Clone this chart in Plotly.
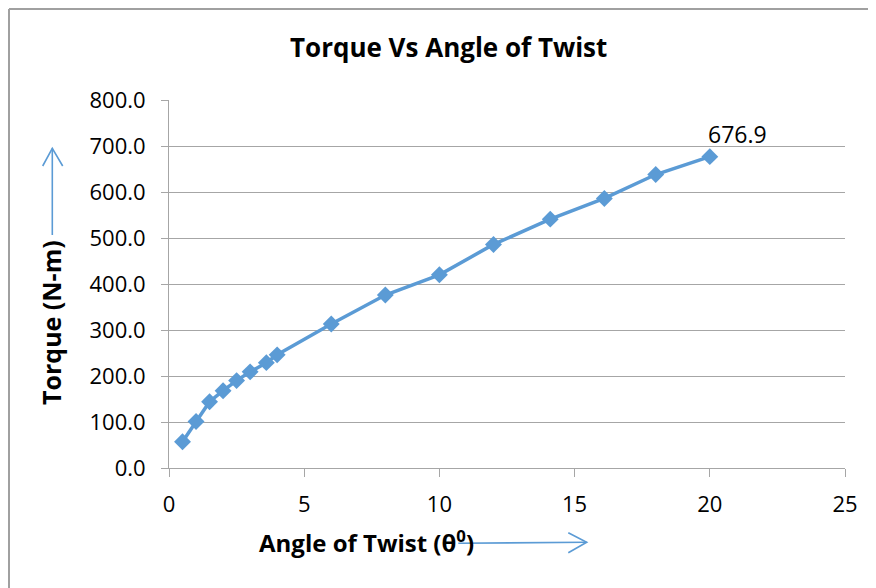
import plotly.graph_objects as go

# Data
angle_deg = [0.5, 1.0, 1.5, 2.0, 2.5, 3.0, 3.6, 4.0, 6.0, 8.0, 10.0, 12.0, 14.1, 16.1, 18.0, 20.0]
torque_nm = [57, 101, 144, 168, 190, 209, 229, 246, 313, 376, 420, 486, 541, 586, 638, 676.9]
x_ticks = [0, 5, 10, 15, 20, 25]
y_ticks = [0, 100, 200, 300, 400, 500, 600, 700, 800]

OFF = 8  # page body margin
W, H = 876 - OFF, 588 - OFF
L, R, T, B = 169 - OFF, 31, 100 - OFF, 120
PW, PH = W - L - R, H - T - B

def px(x):
    return (x - OFF - L) / PW

def py(y):
    return (H - B - (y - OFF)) / PH

BLUE = "#5B9BD5"
GRID = "#A6A6A6"
FONT = "Open Sans"

fig = go.Figure()
fig.add_trace(go.Scatter(
    x=angle_deg, y=torque_nm, mode="lines+markers",
    line=dict(color=BLUE, width=3.5),
    marker=dict(symbol="diamond", size=13, color=BLUE),
    showlegend=False, hoverinfo="x+y",
))

shapes = []
# chart border (top and left visible)
shapes.append(dict(type="line", xref="paper", yref="paper", x0=px(9), y0=py(9), x1=px(900), y1=py(9),
                   line=dict(color="#A0A0A0", width=2)))
shapes.append(dict(type="line", xref="paper", yref="paper", x0=px(9), y0=py(9), x1=px(9), y1=py(600),
                   line=dict(color="#A0A0A0", width=2)))
# vertical arrow
shapes.append(dict(type="line", xref="paper", yref="paper", x0=px(52.3), y0=py(235), x1=px(52.3), y1=py(148.3),
                   line=dict(color=BLUE, width=1.6)))
shapes.append(dict(type="path", xref="paper", yref="paper",
                   path=f"M{px(42.7)},{py(166)} L{px(52.3)},{py(148.3)} L{px(62.7)},{py(166)}",
                   line=dict(color=BLUE, width=1.6)))
# horizontal arrow
shapes.append(dict(type="line", xref="paper", yref="paper", x0=px(458.3), y0=py(543.3), x1=px(586.7), y1=py(542.3),
                   line=dict(color=BLUE, width=1.6)))
shapes.append(dict(type="path", xref="paper", yref="paper",
                   path=f"M{px(568.3)},{py(532.7)} L{px(586.7)},{py(542.3)} L{px(568.3)},{py(552.7)}",
                   line=dict(color=BLUE, width=1.6)))

annotations = [
    dict(x=angle_deg[-1], y=torque_nm[-1], xref="x", yref="y", text=f"{torque_nm[-1]:.1f}",
         showarrow=False, xanchor="center", yanchor="middle", xshift=28, yshift=23,
         font=dict(family=FONT, size=23, color="#000000")),
    dict(x=px(448), y=py(47), xref="paper", yref="paper", text="<b>Torque Vs Angle of Twist</b>",
         showarrow=False, xanchor="center", yanchor="middle",
         font=dict(family=FONT, size=26, color="#000000")),
    dict(x=px(257), y=py(541), xref="paper", yref="paper", text="<b>Angle of Twist (θ<sup>0</sup>)</b>",
         showarrow=False, xanchor="left", yanchor="middle",
         font=dict(family=FONT, size=24, color="#000000")),
    dict(x=px(51), y=py(323), xref="paper", yref="paper", text="<b>Torque (N-m)</b>", textangle=-90,
         showarrow=False, xanchor="center", yanchor="middle",
         font=dict(family=FONT, size=25, color="#000000")),
]

fig.update_layout(
    width=W, height=H, autosize=False,
    margin=dict(l=L, r=R, t=T, b=B, pad=0),
    paper_bgcolor="white", plot_bgcolor="white",
    font=dict(family=FONT, size=22, color="#000000"),
    shapes=shapes, annotations=annotations,
    xaxis=dict(range=[0, 25], tickvals=x_ticks, ticktext=[str(v) for v in x_ticks],
               showgrid=False, zeroline=False, showline=True, linecolor=GRID, linewidth=1,
               ticks="outside", ticklen=8, tickcolor=GRID, tickwidth=1, ticklabelstandoff=9,
               tickfont=dict(family=FONT, size=22)),
    yaxis=dict(range=[0, 800], tickvals=y_ticks, ticktext=[f"{v:.1f}" for v in y_ticks],
               showgrid=True, gridcolor=GRID, gridwidth=1, zeroline=False,
               showline=True, linecolor=GRID, linewidth=1,
               ticks="outside", ticklen=7, tickcolor=GRID, tickwidth=1, ticklabelstandoff=11,
               tickfont=dict(family=FONT, size=22)),
)

fig.write_html("out.html")
